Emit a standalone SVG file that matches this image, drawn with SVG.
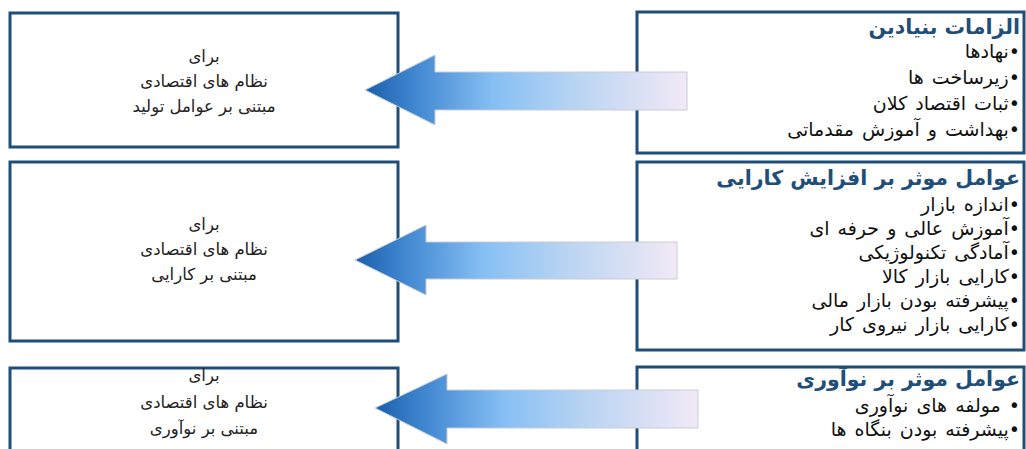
<svg xmlns="http://www.w3.org/2000/svg" width="1026" height="449" viewBox="0 0 1026 449">
<style>
.box{fill:#ffffff;stroke:#1f4e79;stroke-width:3}
.lt{font-family:"DejaVu Sans",sans-serif;font-size:16.5px;fill:#222;text-anchor:middle;direction:rtl}
.rt{font-family:"DejaVu Sans",sans-serif;font-size:19px;word-spacing:2px;fill:#111;text-anchor:start;direction:rtl}
.tt{font-family:"DejaVu Sans",sans-serif;font-size:20.5px;font-weight:bold;fill:#1f4e79;text-anchor:start;direction:rtl}
.arr{fill:url(#ag);stroke:#c8ccd8;stroke-width:1}
</style>
<defs>
<linearGradient id="ag" x1="0" y1="0" x2="1" y2="0">
<stop offset="0" stop-color="#1a5ea8"/>
<stop offset="0.15" stop-color="#3f86d0"/>
<stop offset="0.4" stop-color="#86bff4"/>
<stop offset="0.65" stop-color="#b8d4f2"/>
<stop offset="1" stop-color="#f2e9f6"/>
</linearGradient>
</defs>
<rect width="1026" height="449" fill="#ffffff"/>
<g id="left1"><rect class="box" x="10" y="13" width="388" height="134"/>
<text class="lt" x="204" y="62">برای</text>
<text class="lt" x="204" y="87">نظام های اقتصادی</text>
<text class="lt" x="204" y="112">مبتنی بر عوامل تولید</text></g>
<g id="left2"><rect class="box" x="10" y="162" width="388" height="179"/>
<text class="lt" x="204" y="230">برای</text>
<text class="lt" x="204" y="255">نظام های اقتصادی</text>
<text class="lt" x="204" y="280">مبتنی بر کارایی</text></g>
<g id="left3"><rect class="box" x="10" y="368" width="388" height="100"/>
<text class="lt" x="204" y="381">برای</text>
<text class="lt" x="204" y="408">نظام های اقتصادی</text>
<text class="lt" x="204" y="434">مبتنی بر نوآوری</text></g>
<g id="right1"><rect class="box" x="637" y="12" width="387" height="141"/>
<text class="tt" x="1020" y="34">الزامات بنیادین</text>
<text class="rt" x="1020" y="58">•نهادها</text>
<text class="rt" x="1020" y="84">•زیرساخت ها</text>
<text class="rt" x="1020" y="110">•ثبات اقتصاد کلان</text>
<text class="rt" x="1020" y="136">•بهداشت و آموزش مقدماتی</text></g>
<g id="right2"><rect class="box" x="637" y="162" width="387" height="188"/>
<text class="tt" x="1020" y="185">عوامل موثر بر افزایش کارایی</text>
<text class="rt" x="1020" y="211">•اندازه بازار</text>
<text class="rt" x="1020" y="235">•آموزش عالی و حرفه ای</text>
<text class="rt" x="1020" y="259">•آمادگی تکنولوژیکی</text>
<text class="rt" x="1020" y="283">•کارایی بازار کالا</text>
<text class="rt" x="1020" y="307">•پیشرفته بودن بازار مالی</text>
<text class="rt" x="1020" y="331">•کارایی بازار نیروی کار</text></g>
<g id="right3"><rect class="box" x="637" y="367" width="387" height="100"/>
<text class="tt" x="1020" y="386">عوامل موثر بر نوآوری</text>
<text class="rt" x="1020" y="412">• مولفه های نوآوری</text>
<text class="rt" x="1020" y="436">•پیشرفته بودن بنگاه ها</text></g>
<g id="connectors">
<path class="arr" d="M365,90 L435,55 L435,72 L687,72 L687,110 L435,110 L435,125 Z"/>
<path class="arr" d="M355,260 L426,225 L426,242 L677,242 L677,279 L426,279 L426,295 Z"/>
<path class="arr" d="M375,408 L447,374 L447,390 L698,390 L698,428 L447,428 L447,444 Z"/>
</g>
</svg>
